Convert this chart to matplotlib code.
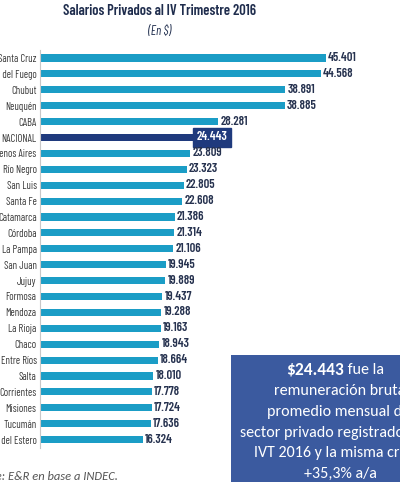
import matplotlib
matplotlib.use("Agg")
import matplotlib.pyplot as plt
from matplotlib import font_manager
from matplotlib.patches import Rectangle

_names = {f.name for f in font_manager.fontManager.ttflist}


def pick(cands, default="DejaVu Sans"):
    for c in cands:
        if c in _names:
            return c
    return default


cond = pick(["Barlow Condensed", "Sofia Sans Condensed", "Roboto Condensed",
             "PT Sans Narrow", "Liberation Sans"])
title_font = cond
calibri = pick(["Carlito", "Lato", "Open Sans"])

provincias = ["Santa Cruz", "Tierra del Fuego", "Chubut", "Neuquén", "CABA", "NACIONAL",
              "Buenos Aires", "Río Negro", "San Luis", "Santa Fe", "Catamarca", "Córdoba",
              "La Pampa", "San Juan", "Jujuy", "Formosa", "Mendoza", "La Rioja", "Chaco",
              "Entre Ríos", "Salta", "Corrientes", "Misiones", "Tucumán", "Santiago del Estero"]
salarios = [45401, 44568, 38891, 38885, 28281, 24443, 23809, 23323, 22805, 22608, 21386,
            21314, 21106, 19945, 19889, 19437, 19288, 19163, 18943, 18664, 18010, 17778,
            17724, 17636, 16324]
etiquetas = ["45.401", "44.568", "38.891", "38.885", "28.281", "24.443", "23.809", "23.323",
             "22.805", "22.608", "21.386", "21.314", "21.106", "19.945", "19.889", "19.437",
             "19.288", "19.163", "18.943", "18.664", "18.010", "17.778", "17.724", "17.636",
             "16.324"]
destacado = "NACIONAL"

titulo = "Salarios Privados al IV Trimestre 2016"
subtitulo = "(En $)"
fuente = "Fuente: E&R en base a INDEC."
nota_cifra = "$24.443"
nota_resto = " fue la"
nota_lineas = ["remuneración bruta", "promedio mensual del",
               "sector privado registrado en el", "IVT 2016 y la misma creció", "+35,3% a/a"]

cyan = "#1b9dc6"
navy = "#1f3a7d"
box_col = "#3b5a9f"

fig = plt.figure(figsize=(4, 5), dpi=100)
fig.patch.set_facecolor("white")
n = len(provincias)
ax = fig.add_axes([0.1, 1 - (58 + 15.9 * (n - 1) + 7.95) / 500, 0.9, (15.9 * n) / 500])

ys = list(range(n))
colors = [navy if p == destacado else cyan for p in provincias]
ax.barh(ys, salarios, height=0.45, color=colors, zorder=2)
ax.set_ylim(n - 0.5, -0.5)
ax.set_xlim(0, 57150)
ax.set_yticks(ys)
ax.set_yticklabels(provincias, fontsize=7.6, color="#3a3a3a", family=cond)
ax.set_xticks([])
for s in ["top", "right", "bottom"]:
    ax.spines[s].set_visible(False)
ax.spines["left"].set_color("#c8c8c8")
ax.spines["left"].set_linewidth(0.8)
ax.tick_params(axis="y", length=0, pad=2.5)

for y, v, lab, p in zip(ys, salarios, etiquetas, provincias):
    if p == destacado:
        ax.text(v + 400, y, lab, va="center", ha="left", fontsize=9, color="white",
                family=cond, fontweight="semibold",
                bbox=dict(boxstyle="square,pad=0.3", fc=navy, ec=navy))
    else:
        ax.text(v + 350, y, lab, va="center", ha="left", fontsize=9, color="#26324f",
                family=cond, fontweight="semibold")

fig.text(0.4, 0.978, titulo, ha="center", va="center", fontsize=10.5, color="#1f2d4d",
         family=title_font, fontweight="semibold")
fig.text(0.4, 0.938, subtitulo, ha="center", va="center", fontsize=9, color="#1f2d4d",
         family=title_font, style="italic")
fig.text(118 / 400, 1 - 476 / 500, fuente, ha="right", va="center", fontsize=9,
         color="#555555", style="italic", family=calibri)

fig.patches.append(Rectangle((231 / 400, 1 - 482 / 500), 1, 127 / 500,
                             transform=fig.transFigure, facecolor=box_col, edgecolor="none"))
cx = 340 / 400
fig.text(cx + 0.01, 1 - 370 / 500, nota_cifra, ha="right", va="center", fontsize=12.5,
         color="white", fontweight="bold", family=calibri)
fig.text(cx + 0.01, 1 - 370 / 500, nota_resto, ha="left", va="center", fontsize=11.5,
         color="white", family=calibri)
for i, line in enumerate(nota_lineas):
    fig.text(cx, 1 - (391 + 20.8 * i) / 500, line, ha="center", va="center", fontsize=11.5,
             color="white", family=calibri)

fig.savefig("out.png", dpi=100)
